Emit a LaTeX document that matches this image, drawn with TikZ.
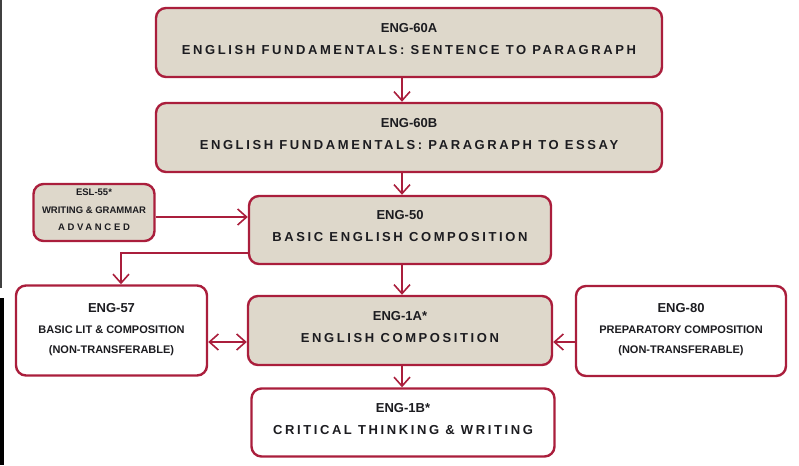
\documentclass[tikz,border=0pt]{standalone}
\usepackage{fontspec}
\setmainfont{Liberation Sans}
\newfontfamily\spacedfont[LetterSpace=20]{Liberation Sans}
\newfontfamily\widefont[LetterSpace=28]{Liberation Sans}
\usetikzlibrary{arrows.meta}
\definecolor{crimson}{RGB}{170,30,60}
\definecolor{beige}{RGB}{222,216,203}
\definecolor{ink}{RGB}{28,28,32}
\newcommand{\coursecode}{\bfseries\fontsize{13}{15}\selectfont}
\newcommand{\coursetitle}{\spacedfont\bfseries\fontsize{13}{15}\selectfont}
\newcommand{\coursenote}{\bfseries\fontsize{11}{13}\selectfont}
\newcommand{\eslnote}{\bfseries\fontsize{9.5}{11}\selectfont}
\begin{document}
\begin{tikzpicture}[x=1pt,y=-1pt,
	box/.style={draw=crimson, line width=2.4pt, rounded corners=10pt, align=center, text=ink, inner sep=0pt},
	course/.style={box, fill=beige, text depth=8pt},
	option/.style={box, fill=white, text depth=5pt},
	link/.style={draw=crimson, line width=1.6pt},
	>={Straight Barb[length=9pt,width=16pt]}]
	\useasboundingbox (0,0) rectangle (799,465);
	% edge of the scan
	\fill[black!75] (0,0) rectangle (1.5,288);
	\fill[black] (0,298) rectangle (4,465);
	\draw (409,42.5) node[course, minimum width=506pt, minimum height=69pt](eng60a){\coursecode ENG-60A\\[10pt]\coursetitle ENGLISH FUNDAMENTALS: SENTENCE TO PARAGRAPH};
	\draw (409,137.5) node[course, minimum width=506pt, minimum height=69pt](eng60b){\coursecode ENG-60B\\[10pt]\coursetitle ENGLISH FUNDAMENTALS: PARAGRAPH TO ESSAY};
	\draw (94,212.5) node[course, text depth=6pt, minimum width=121pt, minimum height=57pt](esl55){\eslnote ESL-55*\\[6pt]\eslnote WRITING \& GRAMMAR\\[5pt]\widefont\eslnote ADVANCED};
	\draw (400,230) node[course, minimum width=302pt, minimum height=68pt](eng50){\coursecode ENG-50\\[10pt]\coursetitle BASIC ENGLISH COMPOSITION};
	\draw (111.5,330.5) node[option, minimum width=191pt, minimum height=90pt](eng57){\coursecode ENG-57\\[9pt]\coursenote BASIC LIT \& COMPOSITION\\[8pt]\coursenote (NON-TRANSFERABLE)};
	\draw (400,330.5) node[course, minimum width=304pt, minimum height=69pt](eng1a){\coursecode ENG-1A*\\[10pt]\coursetitle ENGLISH COMPOSITION};
	\draw (681,331) node[option, minimum width=210pt, minimum height=90pt](eng80){\coursecode ENG-80\\[9pt]\coursenote PREPARATORY COMPOSITION\\[8pt]\coursenote (NON-TRANSFERABLE)};
	\draw (403,422.5) node[option, text depth=8pt, minimum width=303pt, minimum height=68pt](eng1b){\coursecode ENG-1B*\\[10pt]\coursetitle CRITICAL THINKING \& WRITING};
	% connectors
	\coordinate (spine) at (402,0);
	\coordinate (esly) at (0,217);
	\coordinate (sidey) at (0,342);
	\coordinate (branch) at (121,253);
	\draw[link, ->] (eng60a.south -| spine) -- (eng60b.north -| spine);
	\draw[link, ->] (eng60b.south -| spine) -- (eng50.north -| spine);
	\draw[link, ->] (eng50.south -| spine) -- (eng1a.north -| spine);
	\draw[link, ->] (eng1a.south -| spine) -- (eng1b.north -| spine);
	\draw[link, ->] (esl55.east |- esly) -- (eng50.west |- esly);
	\draw[link, ->] (eng50.west |- branch) -- (branch) -- (eng57.north -| branch);
	\draw[link, <->] (eng57.east |- sidey) -- (eng1a.west |- sidey);
	\draw[link, ->] (eng80.west |- sidey) -- (eng1a.east |- sidey);
\end{tikzpicture}
\end{document}
